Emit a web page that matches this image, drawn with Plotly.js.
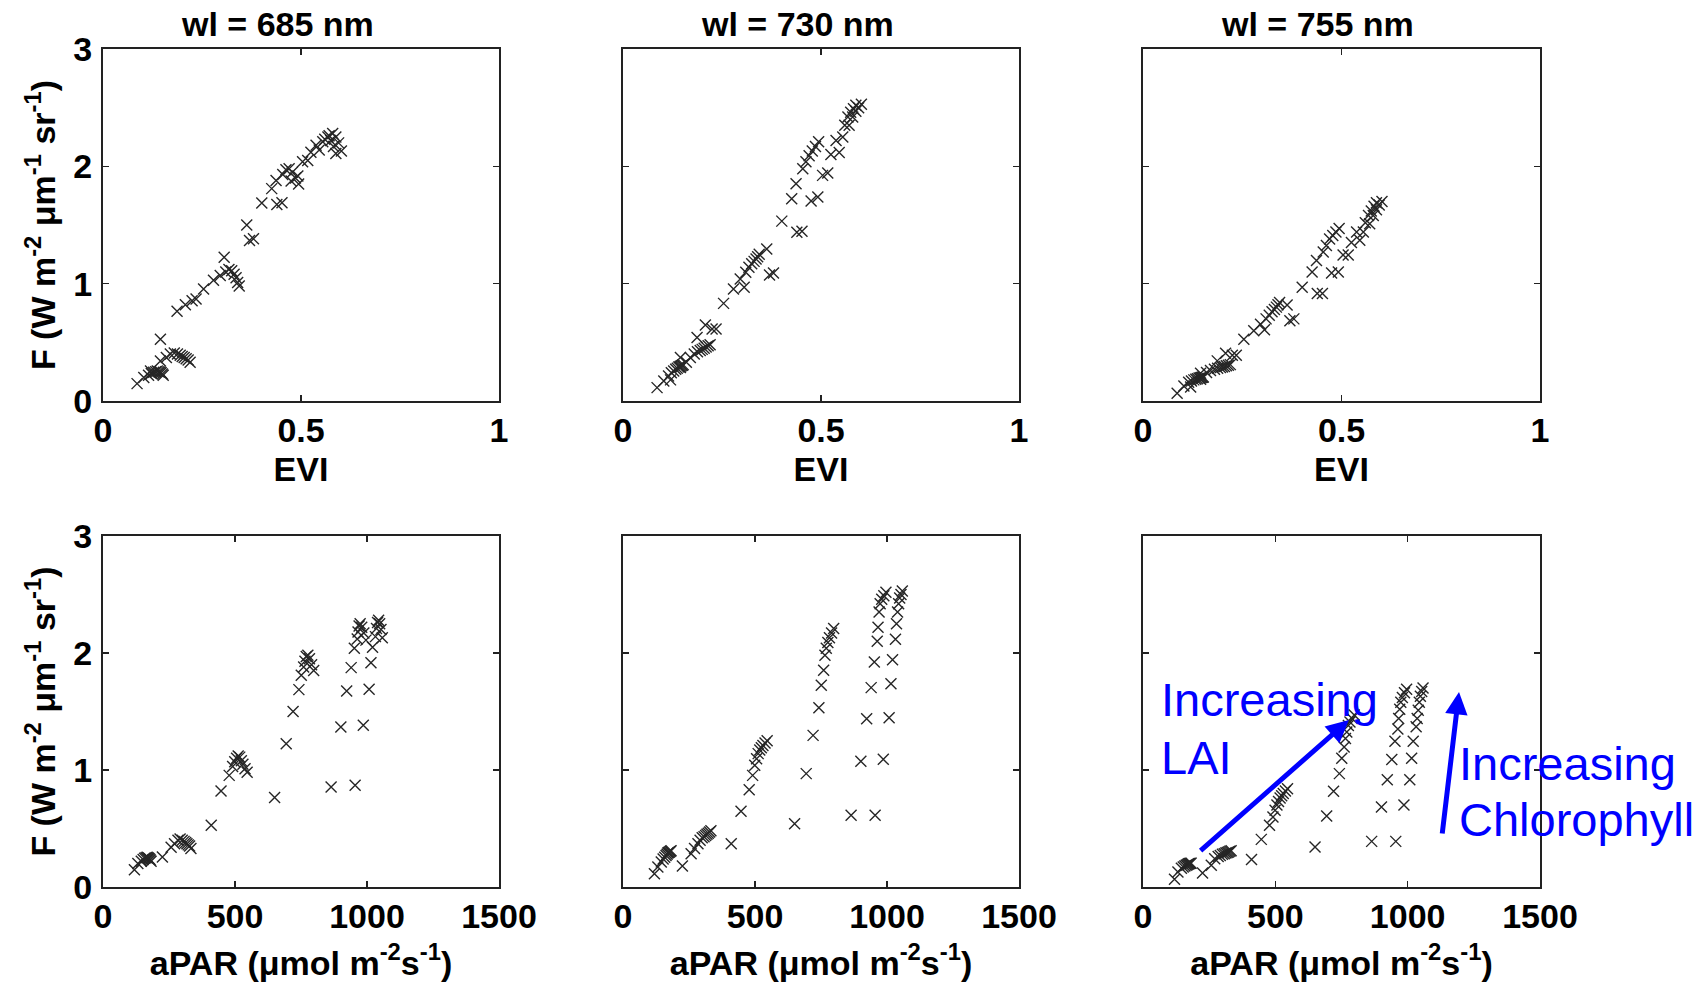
<!DOCTYPE html>
<html>
<head>
<meta charset="utf-8">
<script src="https://cdn.plot.ly/plotly-3.0.1.min.js"></script>
<style>
html, body { margin: 0; padding: 0; background: #ffffff; }
#chart { width: 1699px; height: 986px; }
</style>
</head>
<body>
<div id="chart"></div>
<script>
// ---- Data (6 LAI groups x 12 chlorophyll levels, one row per LAI group) ----
const panelTitles = ['wl = 685 nm', 'wl = 730 nm', 'wl = 755 nm'];

const evi = [
  0.086, 0.103, 0.115, 0.122, 0.128, 0.133, 0.137, 0.141, 0.144, 0.147, 0.150, 0.152,
  0.120, 0.145, 0.160, 0.170, 0.180, 0.188, 0.195, 0.200, 0.205, 0.210, 0.215, 0.220,
  0.145, 0.208, 0.254, 0.279, 0.296, 0.310, 0.318, 0.325, 0.331, 0.336, 0.340, 0.344,
  0.187, 0.306, 0.363, 0.401, 0.426, 0.437, 0.454, 0.462, 0.470, 0.478, 0.486, 0.494,
  0.225, 0.370, 0.439, 0.475, 0.504, 0.525, 0.538, 0.560, 0.568, 0.575, 0.582, 0.588,
  0.235, 0.380, 0.452, 0.492, 0.517, 0.546, 0.555, 0.571, 0.580, 0.588, 0.595, 0.602
];

const apar = [
  119, 132, 145, 152, 158, 163, 167, 170, 173, 176, 179, 182,
  225, 258, 271, 284, 292, 300, 307, 313, 318, 323, 328, 333,
  410, 447, 478, 491, 499, 506, 512, 518, 524, 530, 538, 546,
  650, 694, 720, 742, 751, 760, 765, 770, 776, 782, 790, 798,
  864, 901, 923, 940, 952, 963, 966, 970, 974, 980, 988, 996,
  955, 986, 1008, 1015, 1021, 1032, 1036, 1040, 1044, 1048, 1053, 1058
];

const f685 = [
  0.148, 0.200, 0.220, 0.235, 0.245, 0.250, 0.255, 0.250, 0.245, 0.240, 0.230, 0.220,
  0.256, 0.340, 0.370, 0.400, 0.410, 0.400, 0.390, 0.380, 0.370, 0.360, 0.350, 0.330,
  0.527, 0.820, 0.954, 1.030, 1.070, 1.100, 1.120, 1.110, 1.080, 1.050, 1.010, 0.980,
  0.764, 1.225, 1.500, 1.687, 1.810, 1.880, 1.930, 1.970, 1.980, 1.950, 1.900, 1.850,
  0.855, 1.368, 1.675, 1.875, 2.040, 2.120, 2.180, 2.230, 2.250, 2.220, 2.170, 2.110,
  0.869, 1.382, 1.690, 1.917, 2.050, 2.140, 2.210, 2.260, 2.280, 2.250, 2.200, 2.130
];

const f730 = [
  0.114, 0.171, 0.214, 0.240, 0.255, 0.270, 0.280, 0.290, 0.295, 0.300, 0.305, 0.310,
  0.180, 0.285, 0.330, 0.370, 0.400, 0.420, 0.430, 0.440, 0.450, 0.460, 0.470, 0.480,
  0.370, 0.647, 0.832, 0.954, 1.040, 1.097, 1.140, 1.170, 1.190, 1.210, 1.230, 1.250,
  0.541, 0.969, 1.296, 1.533, 1.724, 1.852, 1.980, 2.040, 2.090, 2.130, 2.170, 2.210,
  0.613, 1.074, 1.439, 1.704, 1.923, 2.100, 2.220, 2.350, 2.420, 2.460, 2.490, 2.520,
  0.613, 1.091, 1.447, 1.738, 1.943, 2.117, 2.250, 2.350, 2.420, 2.470, 2.500, 2.530
];

const f755 = [
  0.066, 0.128, 0.160, 0.170, 0.180, 0.185, 0.190, 0.195, 0.198, 0.200, 0.202, 0.204,
  0.120, 0.185, 0.242, 0.260, 0.270, 0.280, 0.285, 0.290, 0.295, 0.300, 0.305, 0.310,
  0.236, 0.407, 0.527, 0.598, 0.655, 0.700, 0.730, 0.760, 0.780, 0.800, 0.820, 0.840,
  0.342, 0.607, 0.818, 0.969, 1.100, 1.197, 1.270, 1.325, 1.380, 1.410, 1.440, 1.470,
  0.390, 0.684, 0.917, 1.090, 1.245, 1.350, 1.440, 1.520, 1.580, 1.620, 1.660, 1.690,
  0.390, 0.700, 0.917, 1.100, 1.245, 1.370, 1.440, 1.510, 1.580, 1.630, 1.670, 1.700
];

const eviTicks = [0, 0.5, 1];
const aparTicks = [0, 500, 1000, 1500];
const fTicks = [0, 1, 2, 3];

const fSeries = [f685, f730, f755];

// ---- Layout helpers ----
const FONT = 'Liberation Sans, Arial, Helvetica, sans-serif';
const W = 1699, H = 986;
const colPx = [[103, 499], [623, 1019], [1143, 1540]];
const rowPx = [[49, 401], [536, 887]];
const titleX = [277, 797, 1317];
const txtFont = {family: FONT, size: 34, color: '#000000', weight: 'bold'};

const traces = [];
const layout = {
  width: W, height: H,
  margin: {l: 0, r: 0, t: 0, b: 0},
  paper_bgcolor: '#ffffff',
  plot_bgcolor: '#ffffff',
  showlegend: false,
  font: {family: FONT, size: 34, color: '#000000'},
  annotations: []
};

const markerStyle = {
  symbol: 'x-thin',
  size: 11,
  color: '#262626',
  line: {width: 1.4, color: '#262626'}
};

for (let r = 0; r < 2; r++) {
  for (let c = 0; c < 3; c++) {
    const n = r * 3 + c + 1;
    const xs = r === 0 ? evi : apar;
    traces.push({
      type: 'scatter', mode: 'markers',
      x: xs, y: fSeries[c],
      xaxis: 'x' + n, yaxis: 'y' + n,
      marker: markerStyle,
      hoverinfo: 'skip'
    });
    const common = {
      ticks: 'inside', ticklen: 6, tickwidth: 1.5, tickcolor: '#222222',
      showline: true, linecolor: '#222222', linewidth: 2, mirror: 'ticks',
      showgrid: false, zeroline: false,
      tickfont: txtFont
    };
    layout['xaxis' + n] = Object.assign({}, common, {
      domain: [colPx[c][0] / W, colPx[c][1] / W],
      anchor: 'y' + n,
      range: r === 0 ? [0, 1] : [0, 1500],
      tickvals: r === 0 ? eviTicks : aparTicks,
      ticklabelstandoff: -2,
      title: {
        text: r === 0 ? 'EVI' : 'aPAR (μmol m<sup>-2</sup>s<sup>-1</sup>)',
        font: txtFont,
        standoff: r === 0 ? 9 : 17
      }
    });
    layout['yaxis' + n] = Object.assign({}, common, {
      domain: [1 - rowPx[r][1] / H, 1 - rowPx[r][0] / H],
      anchor: 'x' + n,
      range: [0, 3],
      tickvals: fTicks,
      showticklabels: c === 0,
      ticklabelstandoff: 2,
      title: c === 0 ? {
        text: 'F (W m<sup>-2</sup> μm<sup>-1</sup> sr<sup>-1</sup>)',
        font: txtFont,
        standoff: 7
      } : {text: ''}
    });
  }
}

// Panel titles
for (let c = 0; c < 3; c++) {
  layout.annotations.push({
    xref: 'paper', yref: 'paper',
    x: titleX[c] / W, y: 1 - 24 / H,
    xanchor: 'center', yanchor: 'middle',
    text: panelTitles[c], showarrow: false,
    font: txtFont
  });
}

// Blue explanatory text and arrows (last panel)
const blue = '#0000ff';
const blueFont = {family: FONT, size: 47, color: blue};
layout.annotations.push(
  {xref: 'paper', yref: 'paper', x: 1159 / W, y: 1 - 699 / H, xanchor: 'left', yanchor: 'middle',
   text: 'Increasing', showarrow: false, font: blueFont},
  {xref: 'paper', yref: 'paper', x: 1159 / W, y: 1 - 757 / H, xanchor: 'left', yanchor: 'middle',
   text: 'LAI', showarrow: false, font: blueFont},
  {xref: 'paper', yref: 'paper', x: 1457 / W, y: 1 - 763 / H, xanchor: 'left', yanchor: 'middle',
   text: 'Increasing', showarrow: false, font: blueFont},
  {xref: 'paper', yref: 'paper', x: 1457 / W, y: 1 - 819 / H, xanchor: 'left', yanchor: 'middle',
   text: 'Chlorophyll', showarrow: false, font: blueFont},
  {xref: 'x6', yref: 'y6', axref: 'x6', ayref: 'y6',
   x: 778, y: 1.427, ax: 212, ay: 0.30, text: '', showarrow: true,
   arrowhead: 2, arrowsize: 0.9, arrowwidth: 5, arrowcolor: blue, standoff: 0, startstandoff: 0},
  {xref: 'x6', yref: 'y6', axref: 'x6', ayref: 'y6',
   x: 1194, y: 1.667, ax: 1130, ay: 0.444, text: '', showarrow: true,
   arrowhead: 2, arrowsize: 0.9, arrowwidth: 5, arrowcolor: blue, standoff: 0, startstandoff: 0}
);

Plotly.newPlot('chart', traces, layout, {displayModeBar: false, staticPlot: true});
</script>
</body>
</html>
